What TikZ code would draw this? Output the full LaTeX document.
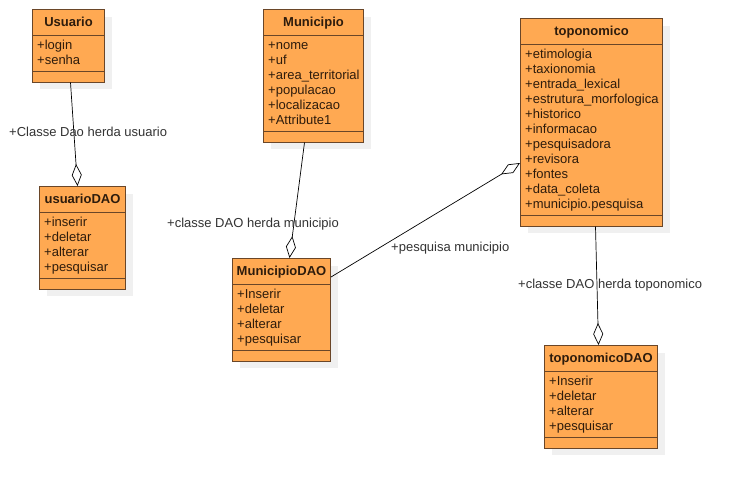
\documentclass[tikz,border=0pt]{standalone}
\usepackage{fontspec}
\setmainfont{Liberation Sans}
\usetikzlibrary{arrows.meta,shadows}

\definecolor{clsfill}{HTML}{FFA952}
\definecolor{clsline}{HTML}{6A4628}
\definecolor{clstext}{HTML}{2E1C0C}
\definecolor{lbltext}{HTML}{333333}

\tikzset{
  umlcls/.style={draw=clsline, line width=1pt, fill=clsfill, rectangle, inner sep=0pt,
    anchor=north west,
    drop shadow={shadow xshift=7pt, shadow yshift=-7pt, fill=black!6, opacity=1}},
  clsrule/.style={draw=clsline, line width=1pt},
  clstitle/.style={font=\fontsize{13}{15}\selectfont\bfseries, text=clstext, inner sep=0pt,
    text height=9.4pt, text depth=2.8pt, anchor=center},
  clsattr/.style={font=\fontsize{13}{15}\selectfont, text=clstext, inner sep=0pt,
    text height=9.4pt, text depth=2.8pt, anchor=west},
  assoc/.style={draw=black, line width=0.7pt},
  aggr/.style={assoc, -{Diamond[open, fill=white, length=22pt, width=10pt, line width=0.7pt]}},
  assoclabel/.style={font=\fontsize{13}{15}\selectfont, text=lbltext, inner sep=0pt,
    text height=9.4pt, text depth=2.8pt, anchor=west}
}

% \umlclass{name}{x}{y}{width}{number of attributes}{title}{attributes}
\newcommand\umlclass[7]{%
  \pgfmathsetmacro\clsbodyh{26+15*#5+6.5}%
  \pgfmathsetmacro\clstotalh{\clsbodyh+10}%
  \node[umlcls, minimum width=#4pt, minimum height=\clstotalh pt] (#1) at (#2,#3) {};
  \draw[clsrule] ([yshift=-26pt]#1.north west) -- ([yshift=-26pt]#1.north east);
  \draw[clsrule] ([yshift=-\clsbodyh pt]#1.north west) -- ([yshift=-\clsbodyh pt]#1.north east);
  \node[clstitle] (#1-title) at ([yshift=-14.3pt]#1.north) {#6};
  \foreach \attr [count=\i] in {#7} {
    \node[clsattr] (#1-attr\i) at ([xshift=5pt, yshift={-26pt-11.5pt-15pt*(\i-1)}]#1.north west) {\attr};
  }%
}

\begin{document}
\begin{tikzpicture}[x=1pt, y=-1pt]
  \useasboundingbox[fill=white] (0,0) rectangle (741,488);

  % classes
  \umlclass{usuario}{32}{9}{72}{2}{Usuario}{+login,+senha}
  \umlclass{usuariodao}{39}{186}{86}{4}{usuarioDAO}{+inserir,+deletar,+alterar,+pesquisar}
  \umlclass{municipio}{263}{9}{100}{6}{Municipio}{+nome,+uf,+area\_territorial,+populacao,+localizacao,+Attribute1}
  \umlclass{municipiodao}{232}{258}{98}{4}{MunicipioDAO}{+Inserir,+deletar,+alterar,+pesquisar}
  \umlclass{toponomico}{520}{18}{142}{11}{toponomico}{+etimologia,+taxionomia,+entrada\_lexical,+estrutura\_morfologica,+historico,+informacao,+pesquisadora,+revisora,+fontes,+data\_coleta,+municipio.pesquisa}
  \umlclass{toponomicodao}{544}{345}{113}{4}{toponomicoDAO}{+Inserir,+deletar,+alterar,+pesquisar}

  % associations
  \draw[aggr] ([xshift=2pt]usuario.south) -- ([xshift=-5pt]usuariodao.north);
  \draw[aggr] ([xshift=-9pt]municipio.south) -- ([xshift=8pt]municipiodao.north);
  \draw[aggr] ([yshift=-19pt]municipiodao.north east) -- ([yshift=-145pt]toponomico.north west);
  \draw[aggr] ([xshift=4pt]toponomico.south) -- ([xshift=-2.5pt]toponomicodao.north);

  % association labels
  \node[assoclabel] (lblusuario) at (9,133) {+Classe Dao herda usuario};
  \node[assoclabel] (lblmunicipio) at (167,224) {+classe DAO herda municipio};
  \node[assoclabel] (lblpesquisa) at (391,248) {+pesquisa municipio};
  \node[assoclabel] (lbltoponomico) at (518,285) {+classe DAO herda toponomico};
\end{tikzpicture}
\end{document}
